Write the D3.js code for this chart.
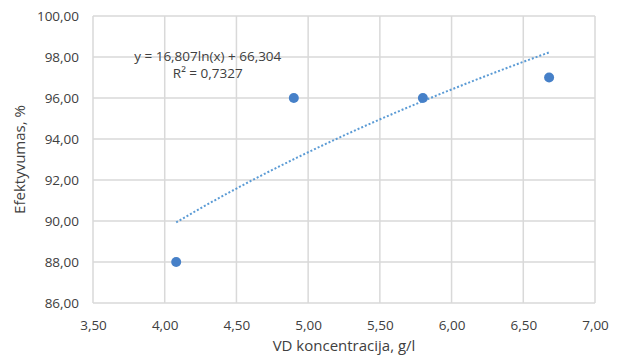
<!DOCTYPE html>
<html>
<head>
<meta charset="utf-8">
<script src="https://cdn.jsdelivr.net/npm/d3@7"></script>
<style>
  body { margin: 0; background: #fff; }
  text { font-family: "Open Sans", sans-serif; fill: #404040; }
</style>
</head>
<body>
<svg id="chart" width="620" height="358"></svg>
<script>
// data
var concentration = [4.08, 4.90, 5.80, 6.68];
var efficiency = [88, 96, 96, 97];
var xTicks = [3.5, 4, 4.5, 5, 5.5, 6, 6.5, 7];
var yTicks = [86, 88, 90, 92, 94, 96, 98, 100];
// log trendline coefficients, as printed on the chart
var trendA = 16.807;
var trendB = 66.304;
var trendLabel = ["y = 16,807ln(x) + 66,304", "R\u00B2 = 0,7327"];

var svg = d3.select("#chart");
var margin = {top: 16, right: 25, bottom: 55, left: 93};
var width = 620 - margin.left - margin.right;
var height = 358 - margin.top - margin.bottom;

var x = d3.scaleLinear().domain([3.5, 7]).range([0, width]);
var y = d3.scaleLinear().domain([86, 100]).range([height, 0]);
var fmt = function(d) { return d3.format(".2f")(d).replace(".", ","); };

var g = svg.append("g")
	.attr("transform", "translate(" + margin.left + "," + margin.top + ")");

// grid
g.append("g").selectAll("line").data(xTicks).enter().append("line")
	.attr("x1", function(d) { return x(d); })
	.attr("x2", function(d) { return x(d); })
	.attr("y1", 0).attr("y2", height)
	.attr("stroke", "#d9d9d9").attr("stroke-width", 1.5);
g.append("g").selectAll("line").data(yTicks).enter().append("line")
	.attr("y1", function(d) { return y(d); })
	.attr("y2", function(d) { return y(d); })
	.attr("x1", 0).attr("x2", width)
	.attr("stroke", "#d9d9d9").attr("stroke-width", 1.5);

// axes (labels only)
var xAxis = g.append("g")
	.attr("transform", "translate(0," + height + ")")
	.call(d3.axisBottom(x).tickValues(xTicks).tickFormat(fmt).tickSize(0).tickPadding(17));
var yAxis = g.append("g")
	.call(d3.axisLeft(y).tickValues(yTicks).tickFormat(fmt).tickSize(0).tickPadding(14));
[xAxis, yAxis].forEach(function(a) {
	a.select(".domain").remove();
	a.selectAll("text").style("font-family", "Open Sans, sans-serif")
		.style("font-size", "13.5px").attr("fill", "#404040");
});

// trendline
var line = d3.line()
	.x(function(d) { return x(d); })
	.y(function(d) { return y(trendA * Math.log(d) + trendB); });
var xMin = d3.min(concentration), xMax = d3.max(concentration);
var steps = d3.range(0, 41).map(function(i) { return xMin + (xMax - xMin) * i / 40; });
g.append("path")
	.datum(steps)
	.attr("d", line)
	.attr("fill", "none")
	.attr("stroke", "#5b9bd5")
	.attr("stroke-width", 2)
	.attr("stroke-dasharray", "2,2");

// points
g.selectAll("circle").data(concentration).enter().append("circle")
	.attr("cx", function(d) { return x(d); })
	.attr("cy", function(d, i) { return y(efficiency[i]); })
	.attr("r", 5)
	.attr("fill", "#4680c8");

// equation
var eq = g.append("text")
	.attr("text-anchor", "middle")
	.style("font-size", "13.5px");
eq.append("tspan").attr("x", x(4.3)).attr("y", y(98) + 4).text(trendLabel[0]);
eq.append("tspan").attr("x", x(4.3)).attr("y", y(98) + 21).text(trendLabel[1]);

// axis titles
svg.append("text")
	.attr("x", margin.left + width / 2)
	.attr("y", 351)
	.attr("text-anchor", "middle")
	.style("font-size", "15px")
	.text("VD koncentracija, g/l");
svg.append("text")
	.attr("transform", "translate(25," + (margin.top + height / 2) + ") rotate(-90)")
	.attr("text-anchor", "middle")
	.style("font-size", "15px")
	.text("Efektyvumas, %");
</script>
</body>
</html>
